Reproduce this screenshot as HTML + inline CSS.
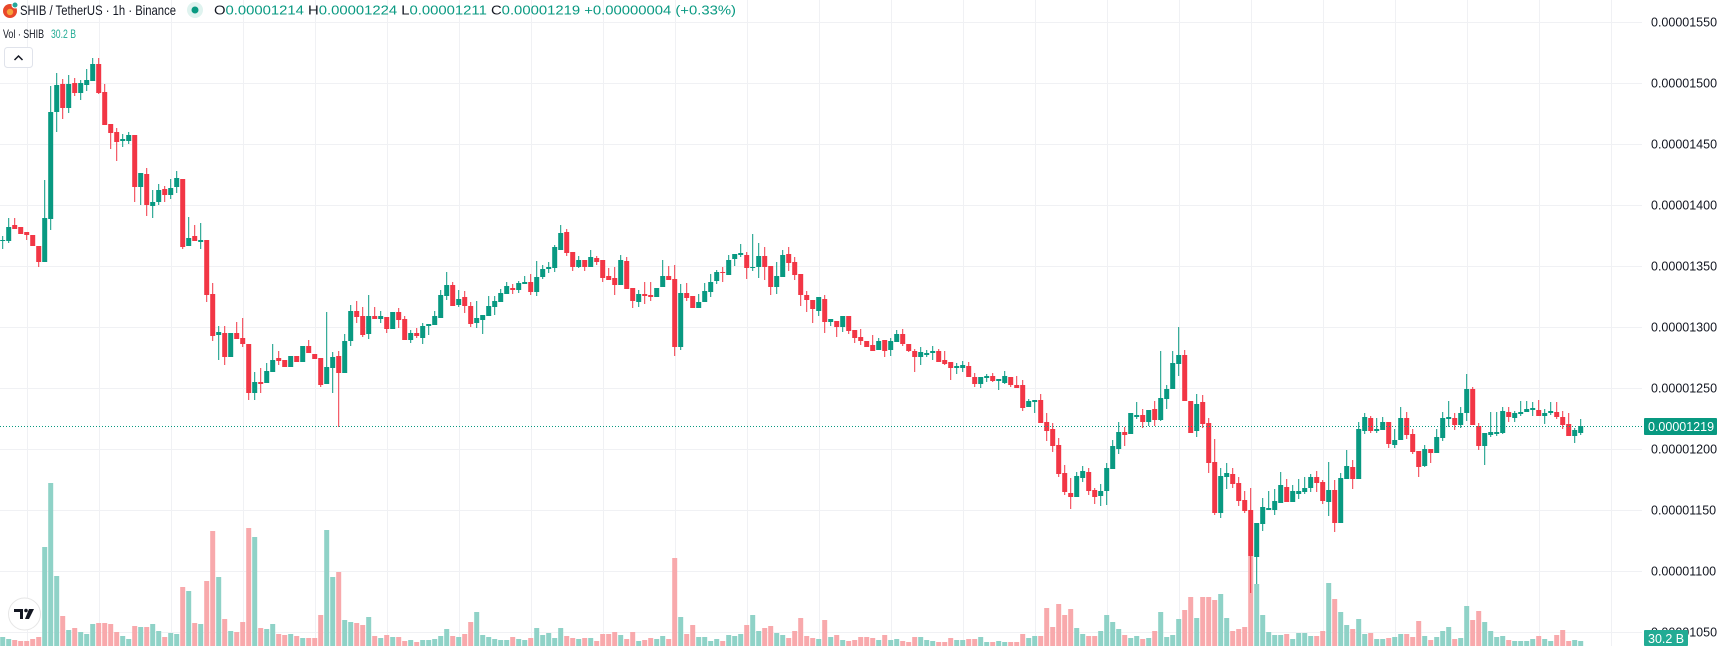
<!DOCTYPE html>
<html><head><meta charset="utf-8"><style>
html,body{margin:0;padding:0;background:#fff;width:1726px;height:646px;overflow:hidden}
svg{display:block}
</style></head><body>
<svg id="c" width="1726" height="646" xmlns="http://www.w3.org/2000/svg" font-family="Liberation Sans, sans-serif"></svg>
<script>
var C=[[1,240,241,236,249],[1,227,241,218,243],[0,225,229,218,0],[0,227,234,0,0],[0,232,235,0,240],[0,235,246,0,0],[0,246,262,0,267],[1,218,262,180,0],[1,112,219,86,230],[1,85,112,73,132],
[0,84,108,79,119],[1,84,108,75,113],[0,83,93,78,96],[1,83,93,80,100],[1,80,85,69,91],[1,64,81,58,0],[0,64,93,58,94],[0,92,125,84,0],[0,124,133,0,149],[0,132,142,128,161],
[1,139,141,134,147],[1,135,141,132,144],[0,135,187,0,202],[1,173,187,0,205],[0,174,205,168,216],[1,202,206,190,218],[1,190,202,184,205],[0,189,195,186,202],[1,188,195,179,199],[1,178,187,171,193],
[0,179,247,0,249],[1,238,246,217,0],[0,236,241,225,0],[1,240,242,223,249],[0,240,295,0,302],[0,294,336,283,341],[1,332,335,326,360],[0,333,357,326,365],[1,333,357,0,0],[0,333,339,322,0],
[0,338,344,318,347],[0,344,393,0,400],[1,382,393,372,400],[0,382,384,368,393],[1,371,383,363,0],[1,360,372,344,0],[0,358,361,351,365],[0,360,367,0,0],[1,356,367,0,0],[0,356,362,0,0],
[1,346,362,0,0],[0,346,353,340,0],[0,354,359,0,0],[0,358,385,0,387],[1,367,384,312,0],[1,357,368,352,393],[0,356,373,351,427],[1,341,373,334,0],[1,311,341,305,346],[0,311,317,301,323],
[0,316,335,307,337],[1,316,334,295,339],[0,316,319,307,0],[1,316,319,311,323],[0,317,329,0,333],[1,312,329,0,0],[0,312,320,308,328],[0,319,340,316,0],[1,333,340,330,343],[0,333,336,328,338],
[1,326,338,323,344],[1,324,326,0,335],[1,316,325,311,0],[1,295,318,290,0],[1,285,296,272,300],[0,285,306,282,0],[1,299,305,290,307],[0,297,306,291,313],[0,306,324,302,327],[1,318,323,301,328],
[1,315,320,0,334],[1,306,316,296,0],[1,301,307,296,315],[1,293,302,289,0],[1,286,294,282,0],[0,288,290,284,294],[1,283,290,281,293],[1,282,284,276,0],[0,282,292,274,295],[1,277,292,261,296],
[1,269,277,265,279],[1,267,269,262,273],[1,247,268,245,272],[1,233,250,225,0],[0,232,253,229,256],[0,252,267,0,271],[1,260,267,256,268],[0,260,267,0,271],[1,257,267,250,0],[0,258,262,256,265],
[0,260,278,0,282],[0,276,280,268,0],[0,278,285,267,295],[1,260,285,255,0],[0,261,289,257,0],[0,288,301,0,308],[1,294,302,290,307],[0,294,296,282,304],[0,295,297,282,301],[1,288,297,0,0],
[1,276,287,260,0],[0,276,280,266,0],[0,279,347,265,356],[1,293,347,284,350],[0,293,298,283,301],[0,296,308,0,0],[1,302,308,294,0],[1,291,302,283,0],[1,282,292,274,297],[1,272,281,270,284],
[0,272,273,267,282],[1,260,275,255,0],[1,254,259,0,266],[1,253,255,244,257],[0,255,268,252,279],[1,267,268,234,271],[1,256,267,243,278],[0,256,267,247,280],[0,266,287,0,295],[1,276,287,262,294],
[1,255,277,250,0],[0,254,263,247,271],[0,262,275,257,280],[0,274,295,0,306],[0,295,300,291,312],[0,300,309,0,323],[1,297,311,0,316],[0,299,322,295,333],[1,319,322,0,326],[0,321,327,0,337],
[1,316,327,0,332],[0,316,331,0,334],[0,330,338,0,343],[0,337,341,329,345],[0,341,347,0,0],[0,345,351,335,0],[1,341,350,338,0],[0,340,351,0,357],[1,341,350,338,356],[1,334,342,330,0],
[0,334,344,329,346],[0,344,351,0,352],[0,351,357,349,372],[1,352,357,347,365],[1,353,355,350,357],[1,351,353,346,360],[0,351,362,349,0],[0,360,364,351,365],[0,362,368,0,380],[1,366,368,363,374],
[1,365,368,361,372],[0,366,377,362,0],[0,377,384,373,387],[1,377,384,0,388],[1,376,378,374,382],[0,376,381,373,382],[1,379,381,0,390],[1,376,383,371,384],[0,377,385,0,387],[0,385,388,376,0],
[0,385,408,380,411],[1,401,407,399,0],[1,400,402,0,413],[0,400,423,394,0],[0,422,431,413,441],[0,429,446,423,452],[0,445,474,438,477],[0,473,492,465,495],[0,493,497,478,509],[1,476,497,472,0],
[1,471,478,466,482],[0,472,491,468,495],[0,490,497,488,504],[1,491,496,484,506],[1,468,491,463,505],[1,446,469,440,0],[1,432,449,422,454],[0,432,435,427,446],[1,413,434,0,0],[1,415,417,402,419],
[0,415,422,409,428],[1,410,422,0,426],[0,409,420,401,426],[1,398,420,351,421],[1,389,399,385,409],[1,363,389,351,0],[1,355,364,327,376],[0,355,401,350,0],[0,401,433,0,0],[1,404,431,394,437],
[0,402,424,395,428],[0,423,463,418,473],[0,462,513,439,515],[1,476,513,468,518],[1,473,477,463,489],[0,474,484,468,488],[0,483,501,477,506],[0,500,511,491,513],[0,510,556,488,593],[1,523,557,0,584],
[1,507,524,498,531],[1,508,510,491,0],[1,501,510,489,515],[1,485,503,472,0],[0,487,502,479,0],[1,491,502,485,0],[1,491,494,479,499],[1,488,492,477,494],[1,477,488,474,492],[0,477,483,471,492],
[0,482,501,480,504],[1,490,502,462,516],[0,490,523,480,532],[1,478,523,473,0],[1,466,479,450,0],[0,467,479,460,489],[1,429,479,422,0],[1,417,431,413,434],[0,418,431,416,433],[1,429,431,418,433],
[1,422,430,417,0],[0,422,444,0,448],[1,440,445,429,448],[1,418,440,407,0],[0,418,435,412,439],[0,434,452,429,454],[0,451,467,0,477],[1,449,466,445,467],[0,449,453,0,463],[1,437,453,429,0],
[1,418,438,412,441],[1,417,419,401,427],[0,418,425,413,430],[1,413,425,407,428],[1,389,413,374,421],[0,389,425,387,0],[0,426,446,423,450],[1,433,446,0,465],[1,432,435,412,437],[1,432,434,412,436],
[1,411,433,407,434],[0,412,417,407,422],[1,413,418,411,422],[1,412,414,401,416],[1,409,412,401,0],[1,408,410,402,416],[0,410,416,400,0],[1,413,416,409,424],[1,411,413,402,415],[0,412,417,402,419],
[0,417,425,411,429],[0,424,436,413,0],[1,430,436,428,443],[1,426,433,419,435]];
var V=[637,639,640,641,641,639,637,547,483,576,616,630,628,632,634,624,623,623,624,632,636,639,626,627,627,624,631,637,633,634,587,591,623,624,581,531,577,619,631,632,622,528,537,628,629,624,634,635,634,636,638,638,
638,615,530,577,572,620,622,623,625,617,636,638,635,637,637,641,640,642,640,640,639,636,629,636,637,634,622,612,635,637,639,640,640,637,639,640,638,628,635,633,638,628,636,638,639,638,638,641,634,634,632,635,639,632,641,640,638,639,636,639,558,617,634,625,637,637,641,639,641,635,636,634,625,
615,631,628,626,633,635,638,631,618,636,638,639,620,637,635,640,641,640,637,637,638,640,635,640,639,641,642,637,637,640,641,642,642,638,640,640,639,639,637,642,642,641,642,642,642,634,638,636,636,608,627,604,615,609,628,634,636,636,631,615,622,629,635,638,636,639,638,631,612,637,635,619,610,597,
618,597,597,600,594,618,631,629,627,556,584,615,632,635,635,634,639,633,633,636,636,631,583,599,612,625,629,619,634,633,639,639,638,637,634,634,637,621,636,640,637,631,627,639,638,606,620,611,622,631,637,636,640,641,641,641,639,636,639,641,635,630,641,640,641];
var s='';
// grid
for(var k=0;k<23;k++){var x=27+72*k;s+='<line x1="'+x+'.5" y1="0" x2="'+x+'.5" y2="646" stroke="#f0f1f4" stroke-width="1"/>';}
var labels=['0.00001550','0.00001500','0.00001450','0.00001400','0.00001350','0.00001300','0.00001250','0.00001200','0.00001150','0.00001100','0.00001050'];
for(var k=0;k<11;k++){var y=22+61*k;s+='<line x1="0" y1="'+y+'.5" x2="1642" y2="'+y+'.5" stroke="#f0f1f4" stroke-width="1"/>';
 s+='<text x="1651" y="'+(y+4.5)+'" font-size="12.5" fill="#131722">'+labels[k]+'</text>';}
// volume
for(var i=0;i<V.length;i++){var x=2.7+6*i-2.5;var col=C[i]&&C[i][0]?'#8fd2c7':'#f8a9ac';
 s+='<rect x="'+x.toFixed(1)+'" y="'+V[i]+'" width="5" height="'+(646-V[i])+'" fill="'+col+'"/>';}
// candles
for(var i=0;i<C.length;i++){var c=C[i],x=2.7+6*i,col=c[0]?'#089981':'#f23645';
 var t=c[1],b=c[2],wt=c[3]||t,wb=c[4]||b;if(b-t<1)b=t+1;
 s+='<rect x="'+(x-0.5).toFixed(1)+'" y="'+wt+'" width="1" height="'+(wb-wt)+'" fill="'+col+'"/>';
 s+='<rect x="'+(x-2.5).toFixed(1)+'" y="'+t+'" width="5" height="'+(b-t)+'" fill="'+col+'"/>';}
// dotted price line
s+='<line x1="0" y1="426.5" x2="1642" y2="426.5" stroke="#089981" stroke-width="1" stroke-dasharray="1,2"/>';
s+='<rect x="1644" y="418" width="73" height="17" rx="1" fill="#089981"/><text x="1648" y="431" font-size="12.5" fill="#fff">0.00001219</text>';
s+='<rect x="1644" y="630" width="44" height="16" rx="1" fill="#22ab94"/><text x="1648" y="643" font-size="12.5" fill="#fff">30.2 B</text>';
// header
s+='<circle cx="10" cy="11" r="7" fill="#e8472a"/><circle cx="10" cy="12" r="3.2" fill="#f7a23b"/><circle cx="15" cy="5" r="3.5" fill="#fff"/><circle cx="15" cy="5" r="2.5" fill="#26a69a"/>';
s+='<text x="20" y="15" font-size="14" fill="#131722" textLength="156" lengthAdjust="spacingAndGlyphs">SHIB / TetherUS · 1h · Binance</text>';
s+='<circle cx="195" cy="10" r="8" fill="#dff3ef"/><circle cx="195" cy="10" r="3.5" fill="#089981"/>';
s+='<text x="214" y="14.5" font-size="12.5" fill="#089981" textLength="522" lengthAdjust="spacingAndGlyphs"><tspan fill="#131722">O</tspan>0.00001214 <tspan fill="#131722">H</tspan>0.00001224 <tspan fill="#131722">L</tspan>0.00001211 <tspan fill="#131722">C</tspan>0.00001219 +0.00000004 (+0.33%)</text>';
s+='<text x="3" y="38" font-size="12" fill="#131722" textLength="41" lengthAdjust="spacingAndGlyphs">Vol · SHIB</text>';
s+='<text x="51" y="38" font-size="12" fill="#22ab94" textLength="25" lengthAdjust="spacingAndGlyphs">30.2 B</text>';
s+='<rect x="4.5" y="47.5" width="28" height="20" rx="3" fill="#fff" stroke="#e0e3eb"/><path d="M14.5 60 L18.5 56 L22.5 60" fill="none" stroke="#131722" stroke-width="1.5"/>';
// TV logo
s+='<circle cx="24.5" cy="614" r="16" fill="#fff" stroke="#e6e6e6" stroke-width="1"/>';
s+='<path d="M14 609 h9 v10 h-3 v-7 h-6z" fill="#131722"/><circle cx="26" cy="610.5" r="1.8" fill="#131722"/><path d="M29 609 h5 l-5 10 h-4z" fill="#131722"/>';
document.getElementById('c').innerHTML=s;
</script>
</body></html>
